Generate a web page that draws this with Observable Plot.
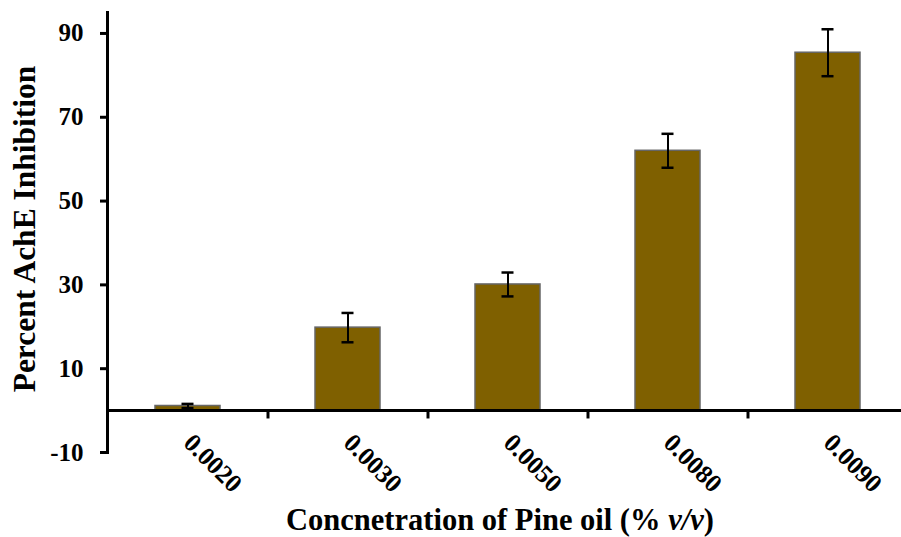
<!DOCTYPE html>
<html>
<head>
<meta charset="utf-8">
<script src="https://cdn.jsdelivr.net/npm/d3@7"></script>
<script src="https://cdn.jsdelivr.net/npm/@observablehq/plot@0.6"></script>
<style>
  html, body { margin: 0; padding: 0; background: white; }
</style>
</head>
<body>
<div id="chart"></div>
<script>
const categories = ["0.0020", "0.0030", "0.0050", "0.0080", "0.0090"];
const inhibition = [1.1, 19.8, 30.1, 62.0, 85.4];
const errors = [0.5, 3.5, 2.85, 4.05, 5.6];
const yTicks = [-10, 10, 30, 50, 70, 90];
const yTitle = "Percent AchE Inhibition";
const xTitleMain = "Concnetration of Pine oil (% ";
const xTitleItalic = "v/v";
const xTitleEnd = ")";

const data = categories.map((c, i) => ({c, v: inhibition[i], e: errors[i]}));
const serif = "'Liberation Serif', 'Times New Roman', serif";

const chart = Plot.plot({
  width: 901,
  height: 537,
  marginTop: 12,
  marginBottom: 85,
  marginLeft: 107,
  marginRight: 0,
  style: {fontFamily: serif, fontWeight: "bold", fontSize: "24px", color: "black", background: "white", overflow: "hidden"},
  x: {domain: categories, range: [107, 907], paddingInner: 0.594, paddingOuter: 0.297, align: 0.5},
  y: {domain: [-10, 95]},
  marks: [
    Plot.barY(data, {x: "c", y: "v", fill: "#7f6000", stroke: "#666666", strokeWidth: 1.5}),
    Plot.ruleX(data, {x: "c", y1: d => d.v - d.e, y2: d => d.v + d.e, stroke: "black", strokeWidth: 2}),
    Plot.tickY(data, {x: "c", y: d => d.v + d.e, insetLeft: 26.5, insetRight: 26.5, stroke: "black", strokeWidth: 2.5}),
    Plot.tickY(data, {x: "c", y: d => d.v - d.e, insetLeft: 26.5, insetRight: 26.5, stroke: "black", strokeWidth: 2.5}),
    Plot.ruleY([0], {stroke: "black", strokeWidth: 3}),
    Plot.ruleX(categories.slice(0, 4), {x: d => d, y1: 0, y2: -2, dx: 80, stroke: "black", strokeWidth: 3}),
    Plot.frame({anchor: "left", stroke: "black", strokeWidth: 3}),
    Plot.axisY({ticks: yTicks, tickSize: 7, tickPadding: 17, strokeWidth: 3, fontSize: 25, fontWeight: "bold", tickFormat: d => String(d), label: null}),
    Plot.axisX({tickSize: 0, tickPadding: 0, tickRotate: 45, textAnchor: "start", lineAnchor: "middle", fontSize: 25.5, fontWeight: "bold", dy: -14, label: null})
  ]
});

document.getElementById("chart").appendChild(chart);

const svg = d3.select(chart);
svg.append("text")
  .attr("transform", "translate(24,229) rotate(-90)")
  .attr("text-anchor", "middle")
  .attr("dominant-baseline", "central")
  .style("font-family", serif)
  .style("font-weight", "bold")
  .style("font-size", "31.5px")
  .attr("fill", "black")
  .text(yTitle);

const xt = svg.append("text")
  .attr("x", 500)
  .attr("y", 530)
  .attr("text-anchor", "middle")
  .style("font-family", serif)
  .style("font-weight", "bold")
  .style("font-size", "30.5px")
  .attr("fill", "black");
xt.append("tspan").text(xTitleMain);
xt.append("tspan").style("font-style", "italic").text(xTitleItalic);
xt.append("tspan").text(xTitleEnd);
</script>
</body>
</html>
